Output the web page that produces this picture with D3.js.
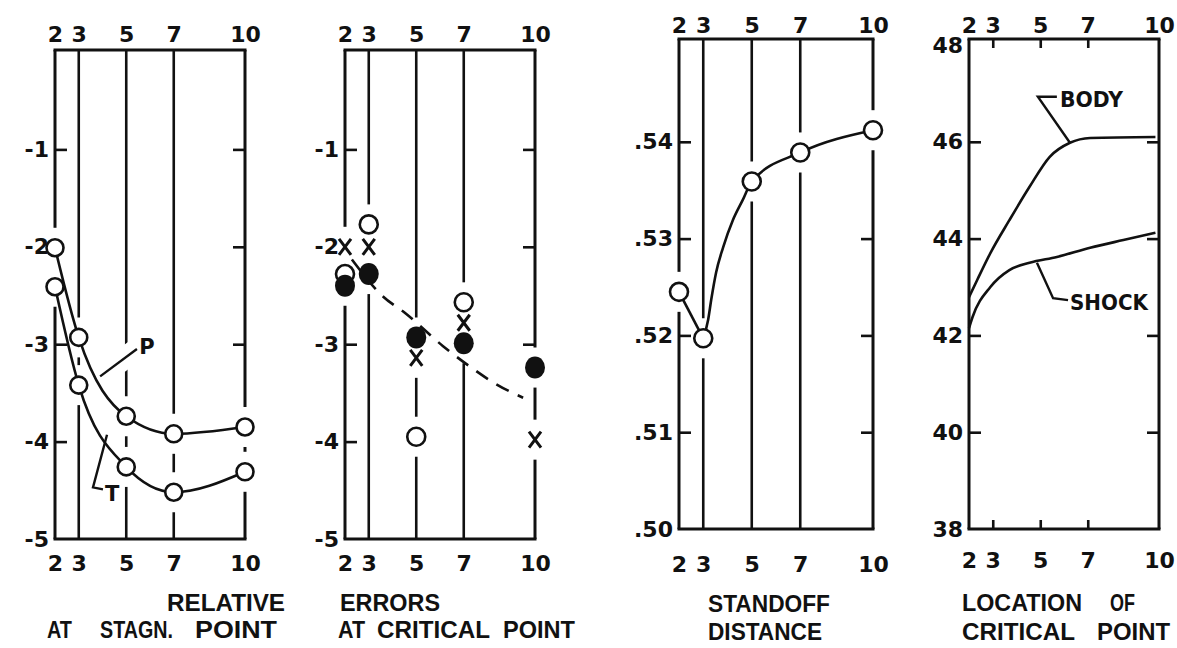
<!DOCTYPE html>
<html>
<head>
<meta charset="utf-8">
<script src="https://cdn.jsdelivr.net/npm/d3@7"></script>
<style>
  html, body { margin: 0; padding: 0; background: #fff; }
  svg { display: block; }
  text { font-family: "Liberation Sans", Arial, sans-serif; font-weight: bold; fill: #111; }
  .tick-label text { font-family: "DejaVu Sans", sans-serif; font-size: 22px; }
  .caption { font-size: 23px; }
  .note { font-family: "DejaVu Sans", sans-serif; font-size: 21px; }
</style>
</head>
<body>
<svg id="chart" width="1177" height="648"></svg>
<script>
// ---------- data ----------
const xTicks = [2, 3, 5, 7, 10];

// relative errors at the stagnation point
const relLabelTicks = [-1, -2, -3, -4, -5];
const relMarkTicks = [-1, -2, -3, -4];
const pressureErr = [-2.01, -2.93, -3.74, -3.92, -3.85];
const temperatureErr = [-2.41, -3.42, -4.26, -4.52, -4.31];

// relative errors at the critical point
const openX = [2, 3, 5, 7];
const openErr = [-2.28, -1.77, -3.95, -2.57];
const filledX = [2, 3, 5, 7, 10];
const filledErr = [-2.40, -2.28, -2.93, -2.99, -3.24];
const crossX = [2, 3, 5, 7, 10];
const crossErr = [-2.00, -2.00, -3.14, -2.78, -3.98];
const trendX = [2.29, 3.6, 4.53, 6.13, 7.26, 8.36, 9.5];
const trendErr = [-2.13, -2.51, -2.68, -3.02, -3.23, -3.41, -3.55];

// standoff distance
const standoffLabelTicks = [0.50, 0.51, 0.52, 0.53, 0.54];
const standoffMarkTicks = [0.51, 0.52, 0.53, 0.54];
const standoff = [0.5245, 0.5197, 0.5359, 0.5389, 0.5412];
const standoffRiseX = [3, 3.2, 3.33, 3.53, 3.82, 4.22, 4.63, 5, 7, 10];
const standoffRise = [0.5197, 0.5216, 0.5237, 0.5265, 0.5291, 0.5319, 0.5340, 0.5359, 0.5389, 0.5412];

// location of the critical point
const locationLabelTicks = [38, 40, 42, 44, 46, 48];
const locationMarkTicks = [40, 42, 44, 46];
const bodyX = [2, 2.34, 2.9, 3.7, 4.55, 5.4, 6.25, 7.1, 9.85];
const bodyLoc = [42.79, 43.14, 43.70, 44.38, 45.07, 45.69, 45.98, 46.08, 46.10];
const shockX = [2, 2.15, 2.9, 3.7, 4.55, 5.7, 7.1, 8.5, 9.85];
const shockLoc = [42.15, 42.38, 43.00, 43.35, 43.50, 43.62, 43.81, 43.97, 44.12];

// ---------- layout ----------
const svg = d3.select("#chart");
const INK = "#111";
const GAP = 20;          // gridlines are interrupted this far around a marker
const TICK = 12;

const panels = [
  { left: 55,  right: 245,  top: 50, bottom: 539, yTop: 52, yDomain: [-5, 0],
    labelTicks: relLabelTicks, markTicks: relMarkTicks, fmt: d => String(d),
    topPad: 8, botPad: 16, grid: true },
  { left: 345, right: 535,  top: 50, bottom: 539, yTop: 52, yDomain: [-5, 0],
    labelTicks: relLabelTicks, markTicks: relMarkTicks, fmt: d => String(d),
    topPad: 8, botPad: 16, grid: true },
  { left: 679, right: 873,  top: 39, bottom: 529, yTop: 45, yDomain: [0.50, 0.55],
    labelTicks: standoffLabelTicks, markTicks: standoffMarkTicks, fmt: d => d.toFixed(2).slice(1),
    topPad: 6, botPad: 27, grid: true },
  { left: 969, right: 1159, top: 39, bottom: 529, yTop: 45, yDomain: [38, 48],
    labelTicks: locationLabelTicks, markTicks: locationMarkTicks, fmt: d => String(d),
    topPad: 6, botPad: 23, grid: false }
];

function gapsAlong(y0, y1, cuts, gap) {
  const s = cuts.slice().sort((a, b) => a - b);
  const out = [];
  let start = y0;
  for (const c of s) {
    const a = c - gap, b = c + gap;
    if (a > start) out.push([start, a]);
    start = Math.max(start, b);
  }
  if (start < y1) out.push([start, y1]);
  return out;
}

function styleAxis(g, width) {
  g.select(".domain").remove();
  g.selectAll("line").attr("stroke", INK).attr("stroke-width", width);
  g.attr("font-size", null).attr("font-family", null);
}

// frame, gridlines, ticks and labels of one panel; markers = [[x, y], ...] in data units
function buildPanel(p, markers) {
  const x = d3.scaleLinear().domain([2, 10]).range([p.left, p.right]);
  const y = d3.scaleLinear().domain(p.yDomain).range([p.bottom, p.yTop]);
  const g = svg.append("g");

  const cuts = new Map();
  markers.forEach(([mx, my]) => {
    if (!cuts.has(mx)) cuts.set(mx, []);
    cuts.get(mx).push(y(my));
  });

  // vertical lines (broken around the plotted points)
  const verticals = p.grid ? xTicks : [2, 10];
  verticals.forEach(v => {
    const segs = gapsAlong(p.top, p.bottom, cuts.get(v) || [], GAP);
    g.selectAll(null).data(segs).enter().append("line")
      .attr("x1", x(v)).attr("x2", x(v))
      .attr("y1", d => d[0]).attr("y2", d => d[1])
      .attr("stroke", INK)
      .attr("stroke-width", (v === 2 || v === 10) ? 3 : 2.6);
  });

  // top and bottom edges
  [p.top, p.bottom].forEach(yy => {
    g.append("line").attr("x1", p.left - 1.5).attr("x2", p.right + 1.5)
      .attr("y1", yy).attr("y2", yy)
      .attr("stroke", INK).attr("stroke-width", 3);
  });

  // inward tick marks, left off where a marker sits on the edge
  const clear = (edgeX) => p.markTicks.filter(t =>
    !(cuts.get(edgeX) || []).some(c => Math.abs(c - y(t)) < GAP));
  g.append("g").attr("transform", `translate(${p.left},0)`)
    .call(d3.axisLeft(y).tickValues(clear(2)).tickSize(-TICK).tickFormat(""))
    .call(a => styleAxis(a, 2.6));
  g.append("g").attr("transform", `translate(${p.right},0)`)
    .call(d3.axisRight(y).tickValues(clear(10)).tickSize(-TICK).tickFormat(""))
    .call(a => styleAxis(a, 2.6));

  if (!p.grid) {
    g.append("g").attr("transform", `translate(0,${p.top})`)
      .call(d3.axisTop(x).tickValues([3, 5, 7]).tickSize(-9).tickFormat(""))
      .call(a => styleAxis(a, 2.6));
    g.append("g").attr("transform", `translate(0,${p.bottom})`)
      .call(d3.axisBottom(x).tickValues([3, 5, 7]).tickSize(-9).tickFormat(""))
      .call(a => styleAxis(a, 2.6));
  }

  // tick labels
  g.append("g").attr("class", "tick-label").attr("transform", `translate(${p.left},0)`)
    .call(d3.axisLeft(y).tickValues(p.labelTicks).tickSize(0).tickPadding(6).tickFormat(p.fmt))
    .call(a => styleAxis(a, 0));
  g.append("g").attr("class", "tick-label").attr("transform", `translate(0,${p.top})`)
    .call(d3.axisTop(x).tickValues(xTicks).tickSize(0).tickPadding(p.topPad).tickFormat(d3.format("d")))
    .call(a => styleAxis(a, 0));
  g.append("g").attr("class", "tick-label").attr("transform", `translate(0,${p.bottom})`)
    .call(d3.axisBottom(x).tickValues(xTicks).tickSize(0).tickPadding(p.botPad).tickFormat(d3.format("d")))
    .call(a => styleAxis(a, 0));

  return { g, x, y };
}

function openCircle(g, cx, cy, r = 8.5) {
  g.append("circle").attr("cx", cx).attr("cy", cy).attr("r", r)
    .attr("fill", "#fff").attr("stroke", INK).attr("stroke-width", 2.6);
}
function filledCircle(g, cx, cy) {
  g.append("ellipse").attr("cx", cx).attr("cy", cy).attr("rx", 10).attr("ry", 11)
    .attr("fill", INK);
}
function cross(g, cx, cy) {
  const w = 6, h = 8;
  g.append("path")
    .attr("d", `M${cx - w},${cy - h}L${cx + w},${cy + h}M${cx + w},${cy - h}L${cx - w},${cy + h}`)
    .attr("stroke", INK).attr("stroke-width", 3).attr("fill", "none");
}
function leader(g, x, y, pts, halo) {
  const ln = d3.line().x(d => x(d[0])).y(d => y(d[1]));
  if (halo) {
    g.append("path").attr("d", ln(pts)).attr("fill", "none")
      .attr("stroke", "#fff").attr("stroke-width", halo);
  }
  return () => g.append("path").attr("d", ln(pts)).attr("fill", "none")
    .attr("stroke", INK).attr("stroke-width", 2.4);
}

// ---------- panel 1: relative errors at the stagnation point ----------
{
  const pts = xTicks.flatMap((v, i) => [[v, pressureErr[i]], [v, temperatureErr[i]]]);
  const { g, x, y } = buildPanel(panels[0], pts);
  const drawP = leader(g, x, y, [[3.9, -3.33], [5.45, -3.05]], 22);
  const drawT = leader(g, x, y, [[4.19, -3.93], [3.6, -4.47], [4.02, -4.49]], 0);
  const curve = d3.line().x(d => x(d[0])).y(d => y(d[1])).curve(d3.curveMonotoneX);
  [pressureErr, temperatureErr].forEach(s => {
    g.append("path").attr("d", curve(d3.zip(xTicks, s)))
      .attr("fill", "none").attr("stroke", INK).attr("stroke-width", 2.6);
  });
  drawP(); drawT();
  pts.forEach(([a, b]) => openCircle(g, x(a), y(b)));
  g.append("text").attr("class", "note").attr("x", x(5.55)).attr("y", y(-3.10)).text("P");
  g.append("text").attr("class", "note").attr("x", x(4.1)).attr("y", y(-4.61)).text("T");
}

// ---------- panel 2: relative errors at the critical point ----------
{
  const opens = d3.zip(openX, openErr);
  const fills = d3.zip(filledX, filledErr);
  const crosses = d3.zip(crossX, crossErr);
  const { g, x, y } = buildPanel(panels[1], [...opens, ...fills, ...crosses]);
  g.append("path")
    .attr("d", d3.line().x(d => x(d[0])).y(d => y(d[1])).curve(d3.curveMonotoneX)(d3.zip(trendX, trendErr)))
    .attr("fill", "none").attr("stroke", INK).attr("stroke-width", 2.6)
    .attr("stroke-dasharray", "14 10");
  opens.forEach(([a, b]) => openCircle(g, x(a), y(b), 9));
  crosses.forEach(([a, b]) => cross(g, x(a), y(b)));
  fills.forEach(([a, b]) => filledCircle(g, x(a), y(b)));
}

// ---------- panel 3: standoff distance ----------
{
  const pts = d3.zip(xTicks, standoff);
  const { g, x, y } = buildPanel(panels[2], pts);
  const straight = d3.line().x(d => x(d[0])).y(d => y(d[1]));
  const smooth = d3.line().x(d => x(d[0])).y(d => y(d[1])).curve(d3.curveMonotoneX);
  g.append("path").attr("d", straight(pts.slice(0, 2)))
    .attr("fill", "none").attr("stroke", INK).attr("stroke-width", 2.6);
  g.append("path").attr("d", smooth(d3.zip(standoffRiseX, standoffRise)))
    .attr("fill", "none").attr("stroke", INK).attr("stroke-width", 2.6);
  pts.forEach(([a, b]) => openCircle(g, x(a), y(b), 9));
}

// ---------- panel 4: location of the critical point ----------
{
  const { g, x, y } = buildPanel(panels[3], []);
  const curve = d3.line().x(d => x(d[0])).y(d => y(d[1])).curve(d3.curveMonotoneX);
  [[bodyX, bodyLoc], [shockX, shockLoc]].forEach(([xs, ys]) => {
    g.append("path").attr("d", curve(d3.zip(xs, ys)))
      .attr("fill", "none").attr("stroke", INK).attr("stroke-width", 2.6);
  });
  leader(g, x, y, [[6.25, 45.98], [4.9, 46.93], [5.7, 46.93]], 0)();
  leader(g, x, y, [[4.86, 43.5], [5.54, 42.77], [6.17, 42.73]], 0)();
  g.append("text").attr("class", "note").attr("x", x(5.83)).attr("y", y(46.72))
    .attr("textLength", 63).attr("lengthAdjust", "spacingAndGlyphs").text("BODY");
  g.append("text").attr("class", "note").attr("x", x(6.25)).attr("y", y(42.52))
    .attr("textLength", 78).attr("lengthAdjust", "spacingAndGlyphs").text("SHOCK");
}

// ---------- captions under the panels ----------
const captionWords = [
  { t: "RELATIVE", x0: 167, x1: 285, base: 611 },
  { t: "AT",       x0: 47,  x1: 72,  base: 638 },
  { t: "STAGN.",   x0: 100, x1: 173, base: 638 },
  { t: "POINT",    x0: 195, x1: 277, base: 638 },
  { t: "ERRORS",   x0: 340, x1: 440, base: 611 },
  { t: "AT",       x0: 338, x1: 365, base: 638 },
  { t: "CRITICAL", x0: 377, x1: 490, base: 638 },
  { t: "POINT",    x0: 503, x1: 575, base: 638 },
  { t: "STANDOFF", x0: 708, x1: 830, base: 612 },
  { t: "DISTANCE", x0: 708, x1: 822, base: 640 },
  { t: "LOCATION", x0: 962, x1: 1082, base: 611 },
  { t: "OF",       x0: 1110, x1: 1135, base: 611 },
  { t: "CRITICAL", x0: 962, x1: 1075, base: 640 },
  { t: "POINT",    x0: 1097, x1: 1170, base: 640 }
];
svg.append("g").selectAll("text").data(captionWords).enter().append("text")
  .attr("class", "caption")
  .attr("x", d => d.x0).attr("y", d => d.base)
  .attr("textLength", d => d.x1 - d.x0).attr("lengthAdjust", "spacingAndGlyphs")
  .text(d => d.t);
</script>
</body>
</html>
